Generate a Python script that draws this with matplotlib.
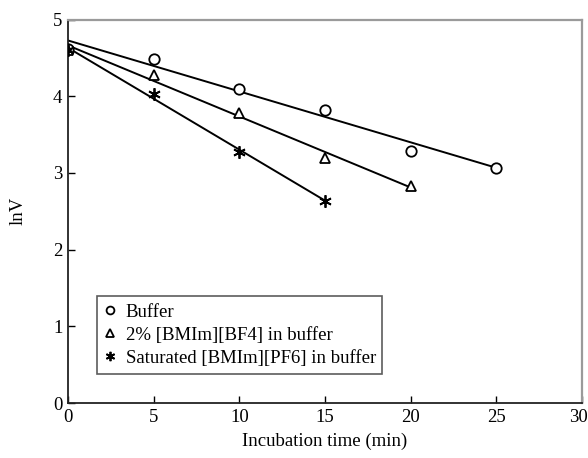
import numpy as np
import matplotlib
matplotlib.use("Agg")
import matplotlib.pyplot as plt
from matplotlib.transforms import ScaledTranslation

plt.rcParams['font.family'] = ['Liberation Serif', 'DejaVu Serif']

# Incubation time (min) and lnV for each medium
t_buffer = [0, 5, 10, 15, 20, 25]
lnv_buffer = [4.62, 4.49, 4.09, 3.82, 3.29, 3.07]

t_bf4 = [0, 5, 10, 15, 20]
lnv_bf4 = [4.60, 4.28, 3.78, 3.19, 2.83]

t_pf6 = [0, 5, 10, 15]
lnv_pf6 = [4.60, 4.03, 3.27, 2.64]

labels = ["Buffer", "2% [BMIm][BF4] in buffer", "Saturated [BMIm][PF6] in buffer"]
x_ticks = [0, 5, 10, 15, 20, 25, 30]
y_ticks = [0, 1, 2, 3, 4, 5]

FS = 13.5

fig = plt.figure(figsize=(5.88, 4.58), dpi=100)
ax = fig.add_axes([68 / 588, 1 - 403 / 458, 514 / 588, 383.5 / 458])

series = [
    (t_buffer, lnv_buffer, 'o', 7.5),
    (t_bf4, lnv_bf4, '^', 7.5),
    (t_pf6, lnv_pf6, (6, 2, 0), 9),
]

handles = []
for (t, y, mk, ms), lab in zip(series, labels):
    t = np.asarray(t, float)
    y = np.asarray(y, float)
    slope, icpt = np.polyfit(t, y, 1)
    xs = np.array([t.min(), t.max()])
    ax.plot(xs, icpt + slope * xs, color='black', lw=1.4, zorder=2)
    h, = ax.plot(t, y, linestyle='none', marker=mk, ms=ms, mfc='white',
                 mec='black', mew=1.3, zorder=3, label=lab)
    handles.append(h)

ax.set_xlim(0, 30)
ax.set_ylim(0, 5)
ax.set_xticks(x_ticks)
ax.set_yticks(y_ticks)
ax.tick_params(direction='in', length=5, width=1.0, labelsize=FS,
               top=False, right=False, pad=4)
for side in ('left', 'bottom'):
    ax.spines[side].set_color('#222222')
    ax.spines[side].set_linewidth(1.3)
for side in ('top', 'right'):
    ax.spines[side].set_color('#9a9a9a')
    ax.spines[side].set_linewidth(1.6)

# keep the last x tick label inside the figure
last = ax.get_xticklabels()[-1]
last.set_transform(last.get_transform() + ScaledTranslation(-4 / 100, 0, fig.dpi_scale_trans))

ax.set_xlabel("Incubation time (min)", fontsize=FS, labelpad=5)
ax.set_ylabel("lnV", fontsize=FS, labelpad=19)

leg = ax.legend(handles=handles, loc='lower left',
                bbox_to_anchor=(0.056, 0.0756, 0.555, 0.206), mode='expand',
                fontsize=FS, frameon=True, fancybox=False, handlelength=0.6,
                handletextpad=0.55, borderpad=0.4, labelspacing=0.3,
                markerscale=0.75, borderaxespad=0)
leg.get_frame().set_edgecolor('#333333')
leg.get_frame().set_linewidth(1.2)

fig.savefig("out.png", dpi=100)
